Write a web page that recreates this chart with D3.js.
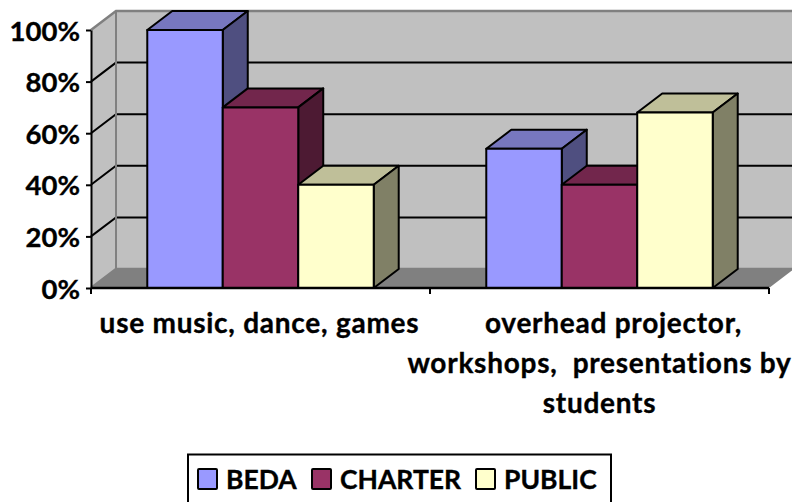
<!DOCTYPE html>
<html>
<head>
<meta charset="utf-8">
<style>
html, body { margin: 0; padding: 0; background: #fff; overflow: hidden; }
svg { display: block; }
text { font-family: Lato, sans-serif; font-weight: bold; fill: #000; stroke: #000; stroke-width: 0.35px; }
</style>
<script src="https://d3js.org/d3.v7.min.js"></script>
</head>
<body>
<div class="chart"></div>
<script>
var categories = ["use music, dance, games", "overhead projector, workshops, presentations by students"];
var categoryLines = [
    ["use music, dance, games"],
    ["overhead projector,", "workshops,  presentations by", "students"]
];
var seriesNames = ["BEDA", "CHARTER", "PUBLIC"];
var beda = [100, 54];
var charter = [70, 40];
var publicSchools = [40, 68];
var seriesValues = [beda, charter, publicSchools];
var yTicks = [0, 20, 40, 60, 80, 100];

var frontColors = ["#9999ff", "#993366", "#ffffcc"];
var topColors = ["#7777bf", "#72264c", "#bfbf99"];
var sideColors = ["#4f4f80", "#4d1a33", "#808066"];

var width = 792, height = 502;
var margin = { left: 91, right: 23, top: 30, bottom: 214 };
var depthX = 25, depthY = -19;

var svg = d3.select(".chart").append("svg")
    .attr("width", width)
    .attr("height", height);

var x0 = d3.scaleBand()
    .domain(categories)
    .range([margin.left, width - margin.right])
    .paddingInner(0.332)
    .paddingOuter(0.166);

var x1 = d3.scaleBand()
    .domain(seriesNames)
    .range([0, x0.bandwidth()]);

var y = d3.scaleLinear()
    .domain([0, 100])
    .range([height - margin.bottom, margin.top]);

var points = function(list) {
    return list.map(function(p) { return p.join(","); }).join(" ");
};

var xLeft = margin.left, xRight = width - margin.right;

/* the box behind the bars: back wall, side wall, floor */
svg.append("polygon")
    .attr("points", points([[xLeft + depthX, y(100) + depthY], [xRight + depthX, y(100) + depthY], [xRight + depthX, y(0) + depthY], [xLeft + depthX, y(0) + depthY]]))
    .attr("fill", "#c0c0c0");

svg.append("polygon")
    .attr("points", points([[xLeft, y(100)], [xLeft + depthX, y(100) + depthY], [xLeft + depthX, y(0) + depthY], [xLeft, y(0)]]))
    .attr("fill", "#c0c0c0");

svg.append("polygon")
    .attr("points", points([[xLeft, y(0)], [xLeft + depthX, y(0) + depthY], [xRight + depthX, y(0) + depthY], [xRight, y(0)]]))
    .attr("fill", "#808080");

/* gridlines, the top and bottom ones are grey */
var grid = svg.append("g").attr("class", "grid");
yTicks.forEach(function(t) {
    var edge = (t === 0 || t === 100);
    grid.append("polyline")
        .attr("points", points([[xLeft, y(t)], [xLeft + depthX, y(t) + depthY], [xRight + depthX, y(t) + depthY]]))
        .attr("fill", "none")
        .attr("stroke", edge ? "#808080" : "#000")
        .attr("stroke-width", edge ? 2.5 : 2);
});

svg.append("line")
    .attr("x1", xLeft + depthX).attr("x2", xLeft + depthX)
    .attr("y1", y(100) + depthY).attr("y2", y(0) + depthY)
    .attr("stroke", "#808080")
    .attr("stroke-width", 2);

/* bars, left to right so later ones sit on top of earlier ones */
categories.forEach(function(cat, c) {
    seriesNames.forEach(function(name, s) {
        var left = x0(cat) + x1(name);
        var right = left + x1.bandwidth();
        var yTop = y(seriesValues[s][c]);
        var yBase = y(0);
        var bar = svg.append("g")
            .attr("class", "bar")
            .attr("stroke", "#000")
            .attr("stroke-width", 2)
            .attr("stroke-linejoin", "round");
        bar.append("polygon")
            .attr("points", points([[left, yTop], [left + depthX, yTop + depthY], [right + depthX, yTop + depthY], [right, yTop]]))
            .attr("fill", topColors[s]);
        bar.append("polygon")
            .attr("points", points([[right, yTop], [right + depthX, yTop + depthY], [right + depthX, yBase + depthY], [right, yBase]]))
            .attr("fill", sideColors[s]);
        bar.append("rect")
            .attr("x", left)
            .attr("y", yTop)
            .attr("width", x1.bandwidth())
            .attr("height", yBase - yTop)
            .attr("fill", frontColors[s]);
    });
});

/* axes */
var yAxis = d3.axisLeft(y)
    .tickValues(yTicks)
    .tickSizeInner(5)
    .tickSizeOuter(0)
    .tickPadding(6)
    .tickFormat(function(d) { return d + "%"; });

var yG = svg.append("g")
    .attr("transform", "translate(" + margin.left + ",0)")
    .call(yAxis);
yG.selectAll("path, line").attr("stroke", "#000").attr("stroke-width", 2);
yG.selectAll("text")
    .style("font-size", "27.5px")
    .style("font-family", "Lato, sans-serif")
    .attr("dy", "0.37em")
    .attr("fill", "#000");

var xAxisLine = svg.append("g");
xAxisLine.append("line")
    .attr("x1", xLeft).attr("x2", xRight)
    .attr("y1", y(0)).attr("y2", y(0))
    .attr("stroke", "#000")
    .attr("stroke-width", 2.5);

var step = x0.step();
categories.concat(["end"]).forEach(function(cat, i) {
    var tx = xLeft + step * i;
    xAxisLine.append("line")
        .attr("x1", tx).attr("x2", tx)
        .attr("y1", y(0)).attr("y2", y(0) + 6)
        .attr("stroke", "#000")
        .attr("stroke-width", 2);
});

/* category labels, first line of the second label sits a bit right in the original */
var labelNudge = [[-1], [14, 0, 0]];
var labelTop = 333;
var lineGap = 40;
categories.forEach(function(cat, c) {
    svg.append("text")
        .attr("text-anchor", "middle")
        .style("font-size", "28px")
        .style("letter-spacing", "0.75px")
        .style("white-space", "pre")
        .selectAll("tspan")
        .data(categoryLines[c])
        .enter().append("tspan")
        .attr("x", function(d, i) { return x0(cat) + x0.bandwidth() / 2 + labelNudge[c][i]; })
        .attr("y", function(d, i) { return labelTop + i * lineGap; })
        .text(function(d) { return d; });
});

/* legend */
var legendX = [198, 312, 476];
var legend = svg.append("g").attr("class", "legend");
legend.append("rect")
    .attr("x", 188)
    .attr("y", 454.5)
    .attr("width", 423)
    .attr("height", 60)
    .attr("fill", "#fff")
    .attr("stroke", "#000")
    .attr("stroke-width", 2);

seriesNames.forEach(function(name, s) {
    legend.append("rect")
        .attr("x", legendX[s])
        .attr("y", 469)
        .attr("width", 19)
        .attr("height", 20)
        .attr("rx", 1)
        .attr("fill", frontColors[s])
        .attr("stroke", "#000")
        .attr("stroke-width", 2);
    legend.append("text")
        .attr("x", legendX[s] + 28)
        .attr("y", 489)
        .style("font-size", "26.5px")
        .text(name);
});
</script>
</body>
</html>
